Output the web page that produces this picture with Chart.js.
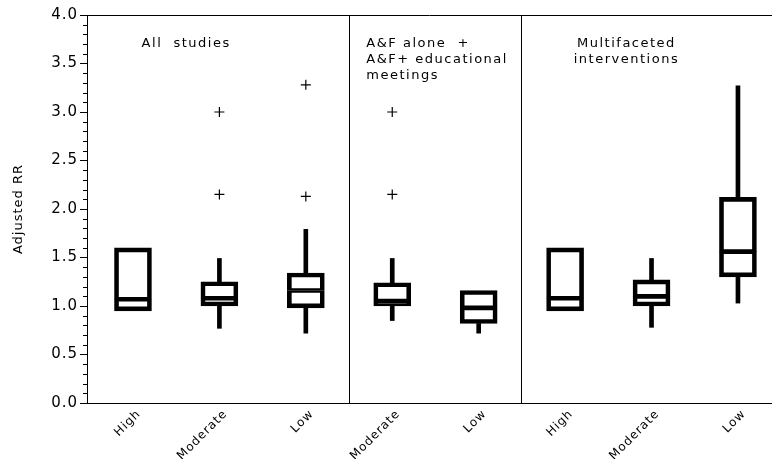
<!DOCTYPE html>
<html>
<head>
<meta charset="utf-8">
<script src="https://cdn.jsdelivr.net/npm/chart.js@4.4.1/dist/chart.umd.min.js"></script>
<style>
    html, body { margin: 0; padding: 0; background: #fff; }
    #wrap { width: 772px; height: 459px; }
</style>
</head>
<body>
<div id="wrap"><canvas id="chart"></canvas></div>
<script>
// Categories, left to right, and how many fall in each panel
const groups = ['High', 'Moderate', 'Low', 'Moderate', 'Low', 'High', 'Moderate', 'Low'];
const panelSizes = [3, 2, 3];
const panelNotes = [
    ['All  studies'],
    ['A&F alone  +', 'A&F+ educational', 'meetings'],
    ['Multifaceted', 'interventions']
];

// Box statistics (adjusted RR)
const q1 = [0.95, 1.00, 0.98, 1.00, 0.82, 0.95, 1.00, 1.30];
const median = [1.07, 1.08, 1.16, 1.05, 0.98, 1.08, 1.10, 1.56];
const q3 = [1.60, 1.25, 1.34, 1.24, 1.16, 1.60, 1.27, 2.12];
const whiskerLow = [null, 0.77, 0.72, 0.85, 0.72, null, 0.78, 1.03];
const whiskerHigh = [null, 1.49, 1.79, 1.49, null, null, 1.49, 3.27];
const outliers = [[], [2.15, 3.00], [2.13, 3.28], [2.15, 3.00], [], [], [], []];

// Y axis tick labels
const yTicks = [0.0, 0.5, 1.0, 1.5, 2.0, 2.5, 3.0, 3.5, 4.0];

const FONT = '"DejaVu Sans", sans-serif';

// Build the datasets
const idx = groups.map((_, i) => i);
const boxLower = idx.map(i => ({ x: i, y: [q1[i], median[i]] }));
const boxUpper = idx.map(i => ({ x: i, y: [median[i], q3[i]] }));
const whiskTop = idx.filter(i => whiskerHigh[i] !== null).map(i => ({ x: i, y: [q3[i], whiskerHigh[i]] }));
const whiskBot = idx.filter(i => whiskerLow[i] !== null).map(i => ({ x: i, y: [whiskerLow[i], q1[i]] }));
const outPts = outliers.flatMap((vals, i) => vals.map(v => ({ x: i, y: v })));

// panel boundaries sit half way between the last box of one panel and the first of the next
const dividers = [];
let acc = 0;
panelSizes.slice(0, -1).forEach(n => { acc += n; dividers.push(acc - 0.5); });
const xTickValues = idx.concat(dividers).sort((a, b) => a - b);

const boxStyle = {
    type: 'bar',
    grouped: false,
    barThickness: 37,
    borderColor: '#000',
    backgroundColor: 'rgba(0,0,0,0)',
    borderSkipped: false
};
const whiskStyle = {
    type: 'bar',
    grouped: false,
    barThickness: 4,
    backgroundColor: '#000',
    borderWidth: 0
};

// Frame top line, minor ticks, panel captions
const decorations = {
    id: 'decorations',
    beforeDraw(chart) {
        const ctx = chart.ctx;
        ctx.save();
        ctx.fillStyle = '#fff';
        ctx.fillRect(0, 0, chart.width, chart.height);
        ctx.restore();
        ctx.letterSpacing = '1px';
    },
    afterDraw(chart) {
        const { ctx, chartArea, scales: { x, y } } = chart;
        ctx.save();
        ctx.strokeStyle = '#000';
        ctx.lineWidth = 1;
        ctx.beginPath();
        ctx.moveTo(chartArea.left, Math.round(chartArea.top) + 0.5);
        ctx.lineTo(chart.width, Math.round(chartArea.top) + 0.5);
        ctx.stroke();

        // minor ticks every 0.1
        ctx.beginPath();
        for (let i = 0; i <= 40; i++) {
            if (i % 5 === 0) continue;
            const py = Math.round(y.getPixelForValue(i / 10)) + 0.5;
            ctx.moveTo(chartArea.left - 4, py);
            ctx.lineTo(chartArea.left, py);
        }
        ctx.stroke();

        // captions
        ctx.font = '13px ' + FONT;
        ctx.fillStyle = '#000';
        ctx.textBaseline = 'middle';
        ctx.letterSpacing = '1.5px';
        const spots = [
            { x: 0.1, align: 'left' },
            { x: 2.7, align: 'left' },
            { x: 5.71, align: 'center' }
        ];
        panelNotes.forEach((lines, p) => {
            ctx.textAlign = spots[p].align;
            lines.forEach((txt, k) => {
                ctx.fillText(txt, x.getPixelForValue(spots[p].x), y.getPixelForValue(3.71 - k * 0.17));
            });
        });
        ctx.restore();
    }
};

new Chart(document.getElementById('chart'), {
    type: 'bar',
    data: {
        datasets: [{
            ...boxStyle,
            data: boxLower,
            borderWidth: { top: 2, bottom: 4, left: 4, right: 4 }
        }, {
            ...boxStyle,
            data: boxUpper,
            borderWidth: { top: 4, bottom: 2, left: 4, right: 4 }
        }, {
            ...whiskStyle,
            data: whiskTop
        }, {
            ...whiskStyle,
            data: whiskBot
        }, {
            type: 'scatter',
            data: outPts,
            pointStyle: 'cross',
            radius: 5,
            borderWidth: 1.2,
            borderColor: '#000',
            backgroundColor: '#000'
        }]
    },
    options: {
        responsive: true,
        maintainAspectRatio: false,
        devicePixelRatio: 1,
        animation: false,
        layout: { autoPadding: false, padding: { top: 15, left: 0, right: 0, bottom: 0 } },
        plugins: {
            legend: { display: false },
            tooltip: { enabled: false }
        },
        scales: {
            x: {
                type: 'linear',
                min: -0.532,
                max: 7.394,
                bounds: 'data',
                offset: false,
                afterBuildTicks: s => { s.ticks = xTickValues.map(v => ({ value: v })); },
                afterFit: s => { s.height = 56; s.paddingLeft = 0; s.paddingRight = 0; },
                ticks: {
                    autoSkip: false,
                    minRotation: 45,
                    maxRotation: 45,
                    padding: 4,
                    labelOffset: 6,
                    color: '#000',
                    font: { family: FONT, size: 12 },
                    callback: v => Number.isInteger(v) ? groups[v] : ''
                },
                grid: {
                    offset: false,
                    drawTicks: false,
                    lineWidth: 1,
                    color: c => (c.tick && !Number.isInteger(c.tick.value)) ? '#000' : 'rgba(0,0,0,0)'
                },
                border: { color: '#000', width: 1 }
            },
            y: {
                min: 0,
                max: 4,
                bounds: 'data',
                afterBuildTicks: s => { s.ticks = yTicks.map(v => ({ value: v })); },
                afterFit: s => { s.width = 87; },
                ticks: {
                    padding: 2,
                    color: '#000',
                    font: { family: FONT, size: 15 },
                    callback: v => v.toFixed(1)
                },
                grid: {
                    drawOnChartArea: false,
                    tickLength: 7,
                    tickColor: '#000',
                    color: '#000'
                },
                border: { color: '#000', width: 1 },
                title: {
                    display: true,
                    text: 'Adjusted RR',
                    color: '#000',
                    font: { family: FONT, size: 13 },
                    padding: { top: 11, bottom: 0 }
                }
            }
        }
    },
    plugins: [decorations]
});
</script>
</body>
</html>
